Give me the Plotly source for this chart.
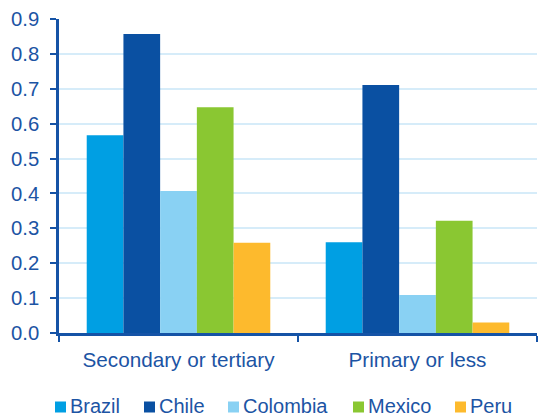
import plotly.graph_objects as go

# Education groups on the x axis
categories = ["Secondary or tertiary", "Primary or less"]

# Values per country
brazil = [0.567, 0.260]
chile = [0.857, 0.711]
colombia = [0.407, 0.109]
mexico = [0.647, 0.322]
peru = [0.259, 0.030]

y_ticks = [0.0, 0.1, 0.2, 0.3, 0.4, 0.5, 0.6, 0.7, 0.8, 0.9]

series = [
    ("Brazil", brazil, "#009fe3"),
    ("Chile", chile, "#0a50a2"),
    ("Colombia", colombia, "#89d1f3"),
    ("Mexico", mexico, "#8ac732"),
    ("Peru", peru, "#fdba2d"),
]

text_color = "#1c54a4"
axis_color = "#1553a6"
font_family = "Liberation Sans, Arial, sans-serif"

W, H = 538, 416
M_L, M_R, M_T, M_B = 59, 1, 19, 83
plot_w = W - M_L - M_R
plot_h = H - M_T - M_B


def px_to_paper_x(px):
    return (px - M_L) / plot_w


def px_to_paper_y(py):
    return (H - M_B - py) / plot_h


fig = go.Figure()
for name, vals, color in series:
    fig.add_trace(go.Bar(
        name=name,
        x=categories,
        y=vals,
        marker=dict(color=color, line=dict(width=0)),
        showlegend=False,
    ))

# Legend row below the axis: colour key squares followed by the series names
legend_left_px = [55, 144, 228, 353, 455]
key_size = 11
key_top_px = 401.5
shapes = []
annotations = []
for (name, _, color), left in zip(series, legend_left_px):
    shapes.append(dict(
        type="rect", xref="paper", yref="paper",
        x0=px_to_paper_x(left), x1=px_to_paper_x(left + key_size),
        y0=px_to_paper_y(key_top_px + key_size), y1=px_to_paper_y(key_top_px),
        fillcolor=color, line=dict(width=0), layer="above",
    ))
    annotations.append(dict(
        text=name, xref="paper", yref="paper",
        x=px_to_paper_x(left + key_size + 3), xanchor="left",
        y=px_to_paper_y(key_top_px + key_size / 2 - 0.5), yanchor="middle",
        showarrow=False, borderpad=0,
        font=dict(size=20, color=text_color, family=font_family),
    ))

fig.update_layout(
    width=W,
    height=H,
    barmode="group",
    bargap=0.232,
    bargroupgap=0,
    plot_bgcolor="white",
    paper_bgcolor="white",
    margin=dict(l=M_L, r=M_R, t=M_T, b=M_B),
    font=dict(family=font_family, size=20, color=text_color),
    showlegend=False,
    shapes=shapes,
    annotations=annotations,
)

fig.update_xaxes(
    type="category",
    showline=True,
    linecolor=axis_color,
    linewidth=2.5,
    ticks="outside",
    tickson="boundaries",
    ticklen=6,
    tickwidth=2,
    tickcolor=axis_color,
    showgrid=False,
    ticklabelstandoff=6,
    tickfont=dict(size=20.7, color=text_color),
)

fig.update_yaxes(
    range=[0, 0.9],
    tickvals=y_ticks,
    ticktext=[f"{v:.1f}" for v in y_ticks],
    showline=True,
    linecolor=axis_color,
    linewidth=2.5,
    ticks="outside",
    ticklen=6,
    tickwidth=2,
    tickcolor=axis_color,
    showgrid=True,
    gridcolor="#d6ecf9",
    gridwidth=1.5,
    zeroline=False,
    ticklabelstandoff=7,
    tickfont=dict(size=20.3, color=text_color),
)

fig.write_html("out.html")
